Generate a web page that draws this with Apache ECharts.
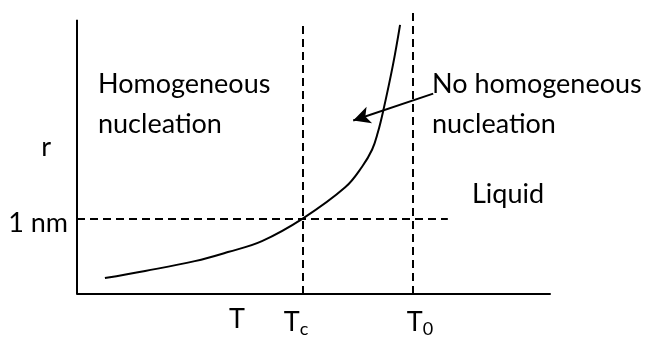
<!DOCTYPE html>
<html><head><meta charset="utf-8">
<script src="https://cdn.jsdelivr.net/npm/echarts@6/dist/echarts.min.js"></script>
<style>html,body{margin:0;padding:0;background:#fff}#c{width:648px;height:338px}</style>
</head><body><div id="c"></div>
<script>
// Arbitrary units: T axis 0..100, r axis 0..100 (axis drawn to 100, frame to 103.6)
var curveT = [5.9, 14.4, 24.9, 31.9, 39.1, 47.8, 56.7, 60.3, 62.4, 63.6, 64.7, 66.8, 68.3];
var curveR = [5.8, 8.4, 12.0, 15.3, 19.3, 27.6, 38.9, 46.5, 52.7, 58.9, 66.5, 83.6, 98.2];
var Tc = 47.8, T0 = 71.0, rStar = 27.6;
var xTickValues = [33.8, 46.3, 72.5];
var xTickLabels = ['T', '{t|T}{s|c}', '{t|T}{s|0}'];
var yTickValues = [27.6, 53.5];
var yTickLabels = ['{n|1 nm}', '{r|r}'];
var FONT = 'Lato';
var FS = 27;

var chart = echarts.init(document.getElementById('c'), null, {renderer: 'canvas'});
var curve = curveT.map(function (t, i) { return [t, curveR[i]]; });
var dash = {color: '#000', width: 2, type: [8, 5]};
var solid = {color: '#000', width: 2, type: 'solid'};
chart.setOption({
  animation: false,
  backgroundColor: '#fff',
  grid: {left: 77, top: 10, width: 473, height: 285},
  xAxis: {
    type: 'value', min: 0, max: 100,
    axisLine: {lineStyle: {color: '#000', width: 2}},
    axisTick: {show: false}, splitLine: {show: false},
    axisLabel: {
      customValues: xTickValues, margin: 12,
      fontFamily: FONT, fontSize: FS, color: '#000',
      formatter: function (v) { return xTickLabels[xTickValues.indexOf(v)]; },
      rich: {t: {fontFamily: FONT, fontSize: FS, color: '#000'},
             s: {fontFamily: FONT, fontSize: 18, color: '#000', verticalAlign: 'bottom', padding: [14, 0, 0, 0]}}
    }
  },
  yAxis: {
    type: 'value', min: 0, max: 103.6,
    axisLine: {show: false},
    axisTick: {show: false}, splitLine: {show: false},
    axisLabel: {
      customValues: yTickValues, margin: 9,
      fontFamily: FONT, fontSize: FS, color: '#000',
      formatter: function (v) { return yTickLabels[yTickValues.indexOf(v)]; },
      rich: {r: {fontFamily: FONT, fontSize: FS, color: '#000', padding: [0, 17, 0, 0]},
             n: {fontFamily: FONT, fontSize: FS, color: '#000', padding: [10, 0, 0, 0]}}
    }
  },
  series: [
    {
      type: 'line', data: curve, smooth: 0.4, symbol: 'none', clip: false,
      lineStyle: {color: '#000', width: 2},
      markLine: {
        silent: true, symbol: 'none', label: {show: false},
        data: [
          [{coord: [0, 0], lineStyle: solid}, {coord: [0, 100]}],
          [{coord: [Tc, 0], lineStyle: dash}, {coord: [Tc, 99.3]}],
          [{coord: [T0, 0], lineStyle: dash}, {coord: [T0, 103.6]}],
          [{coord: [0, rStar], lineStyle: dash}, {coord: [78.4, rStar]}],
          [{coord: [75.3, 73.1], symbol: 'none', lineStyle: solid},
           {coord: [58.4, 63.3], symbol: 'arrow', symbolSize: [13, 17]}]
        ]
      }
    }
  ],
  graphic: [
    {type: 'text', left: 98, top: 64, style: {text: 'Homogeneous\nnucleation', font: FS + 'px Lato', fill: '#000', lineHeight: 40}},
    {type: 'text', left: 432, top: 64, style: {text: 'No homogeneous\nnucleation', font: FS + 'px Lato', fill: '#000', lineHeight: 40}},
    {type: 'text', left: 472, top: 181, style: {text: 'Liquid', font: FS + 'px Lato', fill: '#000'}}
  ]
});
</script></body></html>
